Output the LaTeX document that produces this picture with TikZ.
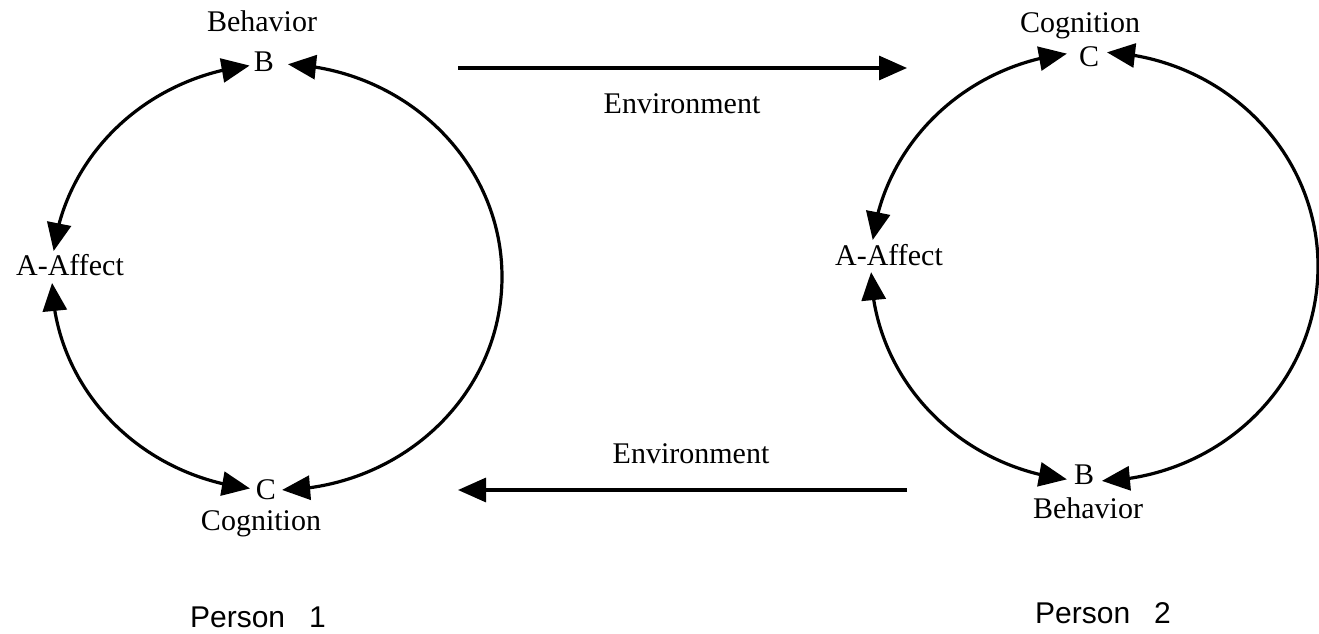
\documentclass[tikz,border=0pt]{standalone}
\usepackage{fontspec}
\setmainfont{Liberation Serif}
\newfontfamily\helv{Liberation Sans}
\usetikzlibrary{arrows.meta,bending}
\begin{document}
\begin{tikzpicture}[x=1pt,y=1pt,
  lbl/.style={inner sep=0pt, anchor=base, font=\fontsize{30}{36}\selectfont},
  plbl/.style={inner sep=0pt, anchor=base, font=\helv\fontsize{30}{36}\selectfont},
  link/.style={line width=3.2pt},
  onetip/.style={-{Triangle[length=28pt,width=24pt]}},
  twotips/.style={{Triangle[length=28pt,width=24pt]}-{Triangle[length=28pt,width=24pt]}}]
\useasboundingbox (0,0) rectangle (1319,633);

% ---------- Person 1 ----------
\coordinate (L) at (277,356);
\path (L) ++(97:225 and 213) coordinate (L1);
\path (L) ++(87.2:225 and 213) coordinate (L5);
\path (L) ++(181.6:225 and 213) coordinate (L3);

\node[lbl] (behL) at (262,601) {Behavior};
\node[lbl] (bL) at (264,561) {B};
\node[lbl] (aL) at (70,358) {A-Affect};
\node[lbl] (cL) at (266,134) {C};
\node[lbl] (cogL) at (261,103) {Cognition};
\node[plbl] (p1) at (258,6) {Person\hspace{0.8em}1};

\draw[link,twotips] (L1) arc[start angle=97, end angle=173, x radius=225, y radius=213];
\draw[link,twotips] (L3) arc[start angle=181.6, end angle=263.1, x radius=225, y radius=213];
\draw[link,twotips] (L5) arc[start angle=87.2, end angle=-88.7, x radius=225, y radius=213];

% ---------- Person 2 ----------
\coordinate (R) at (1094.5,366.5);
\path (R) ++(97.1:223.5 and 214.5) coordinate (R1);
\path (R) ++(86.8:223.5 and 214.5) coordinate (R5);
\path (R) ++(181.5:223.5 and 214.5) coordinate (R3);

\node[lbl] (cogR) at (1080,600) {Cognition};
\node[lbl] (cR) at (1089,566) {C};
\node[lbl] (aR) at (889,368) {A-Affect};
\node[lbl] (bR) at (1084,149) {B};
\node[lbl] (behR) at (1088,115) {Behavior};
\node[plbl] (p2) at (1103,10) {Person\hspace{0.8em}2};

\draw[link,twotips] (R1) arc[start angle=97.1, end angle=172.9, x radius=223.5, y radius=214.5];
\draw[link,twotips] (R3) arc[start angle=181.5, end angle=262.9, x radius=223.5, y radius=214.5];
\draw[link,twotips] (R5) arc[start angle=86.8, end angle=-88.1, x radius=223.5, y radius=214.5];

% ---------- Environment ----------
\coordinate (E1s) at (458,565);
\coordinate (E1e) at (907,565);
\coordinate (E2s) at (907,143);
\coordinate (E2e) at (458,143);
\draw[link,onetip] (E1s) -- (E1e);
\draw[link,onetip] (E2s) -- (E2e);
\node[lbl] (env1) at (682,519) {Environment};
\node[lbl] (env2) at (691,170) {Environment};
\end{tikzpicture}
\end{document}
